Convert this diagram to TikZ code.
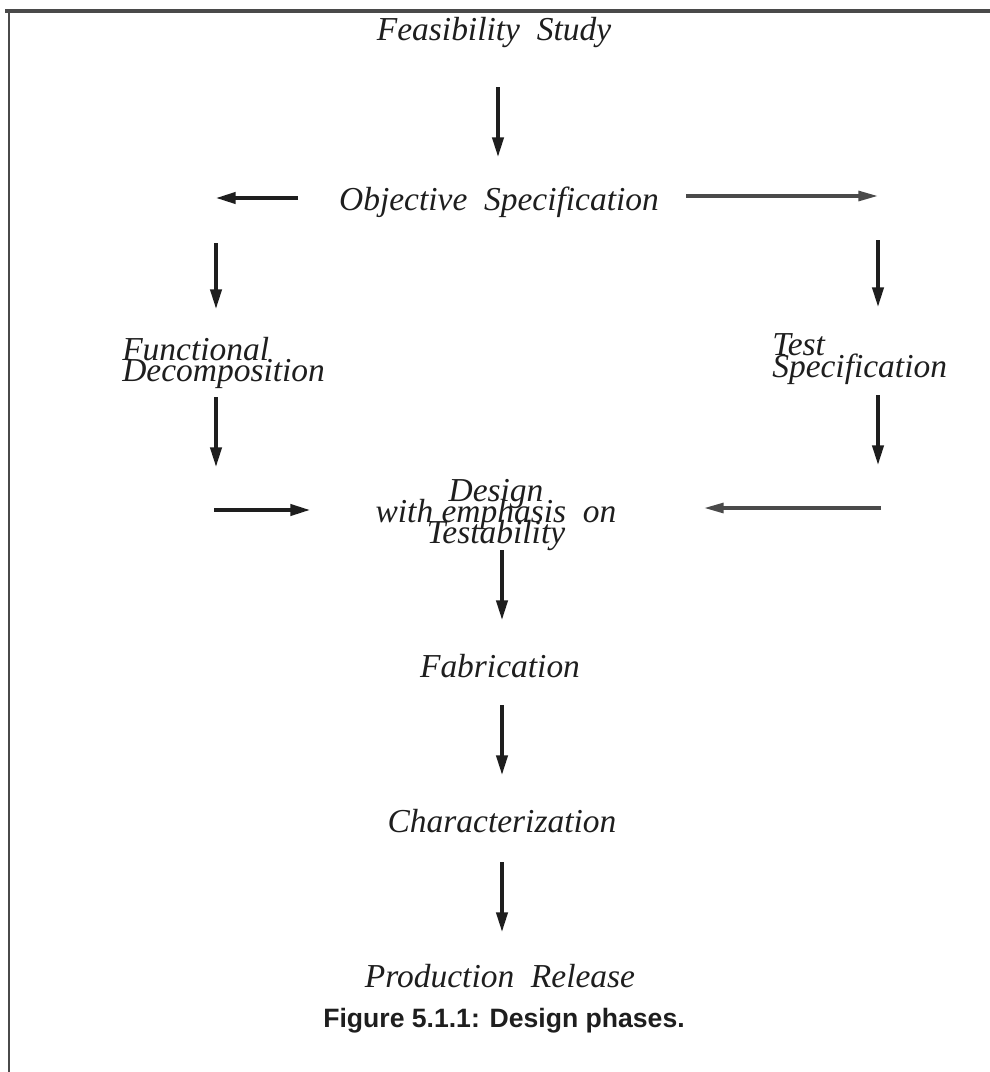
\documentclass[tikz,border=0pt]{standalone}
\usepackage{fontspec}
\setmainfont{Liberation Serif}
\newfontfamily\capfont{Liberation Sans}
\usetikzlibrary{arrows.meta}
\definecolor{ink}{HTML}{1E1E1E}
\definecolor{greyink}{HTML}{4A4A4A}
% let stacked lines overlap instead of being pushed apart
\newcommand\tightlines{\lineskiplimit=-100pt\relax\lineskip=0pt\relax}
\begin{document}
\begin{tikzpicture}[x=0.025cm,y=-0.025cm,
  phase/.style={inner sep=0pt, text=ink, font=\fontsize{23.8}{15.5}\selectfont\itshape\tightlines, align=center},
  phaseL/.style={phase, align=left},
  flow/.style={line width=2.4pt, draw=ink, -{Triangle[length=14pt,width=8pt]}},
  flowg/.style={flow, draw=greyink, -{Triangle[length=14pt,width=7pt]}}]
  \useasboundingbox (0,0) rectangle (990,1072);
  \fill[white] (0,0) rectangle (990,1072);
  % frame
  \draw[line width=2.6pt, draw=greyink] (5,11) -- (990,11);
  \draw[line width=2pt, draw=greyink] (9,11) -- (9,1072);

  % phases
  \node[phase] (feas) at (494,33) {Feasibility\ \ Study};
  \node[phase] (obj) at (499,202) {Objective\ \ Specification};
  \node[phaseL, anchor=west] (func) at (122,363) {Functional\\Decomposition};
  \node[phaseL, anchor=west] (test) at (772,359) {Test\\Specification};
  \node[phase, font=\fontsize{23.8}{14.6}\selectfont\itshape\tightlines] (des) at (496,515) {Design\\with\ emphasis\ \ on\\Testability};
  \node[phase] (fab) at (500,666) {Fabrication};
  \node[phase] (char) at (502,821) {Characterization};
  \node[phase] (prod) at (500,976) {Production\ \ Release};
  \node[inner sep=0pt, text=ink, font=\capfont\bfseries\fontsize{18.9}{22}\selectfont] (cap) at (504,1021) {Figure 5.1.1: Design phases.};

  % arrow end points
  \coordinate (a1s) at (498,87);  \coordinate (a1e) at (498,157);
  \coordinate (oLs) at (298,198); \coordinate (oLe) at (216,198);
  \coordinate (oRs) at (686,196); \coordinate (oRe) at (878,196);
  \coordinate (l1s) at (216,243); \coordinate (l1e) at (216,309);
  \coordinate (l2s) at (216,397); \coordinate (l2e) at (216,467);
  \coordinate (r1s) at (878,240); \coordinate (r1e) at (878,307);
  \coordinate (r2s) at (878,395); \coordinate (r2e) at (878,465);
  \coordinate (hLs) at (214,510); \coordinate (hLe) at (310,510);
  \coordinate (hRs) at (881,508); \coordinate (hRe) at (704,508);
  \coordinate (d1s) at (502,550); \coordinate (d1e) at (502,620);
  \coordinate (d2s) at (502,705); \coordinate (d2e) at (502,775);
  \coordinate (d3s) at (502,862); \coordinate (d3e) at (502,932);

  % connectors
  \draw[flow] (a1s) -- (a1e);
  \draw[flow] (oLs) -- (oLe);
  \draw[flowg] (oRs) -- (oRe);
  \draw[flow] (l1s) -- (l1e);
  \draw[flow] (l2s) -- (l2e);
  \draw[flow] (r1s) -- (r1e);
  \draw[flow] (r2s) -- (r2e);
  \draw[flow] (hLs) -- (hLe);
  \draw[flowg] (hRs) -- (hRe);
  \draw[flow] (d1s) -- (d1e);
  \draw[flow] (d2s) -- (d2e);
  \draw[flow] (d3s) -- (d3e);
\end{tikzpicture}
\end{document}
